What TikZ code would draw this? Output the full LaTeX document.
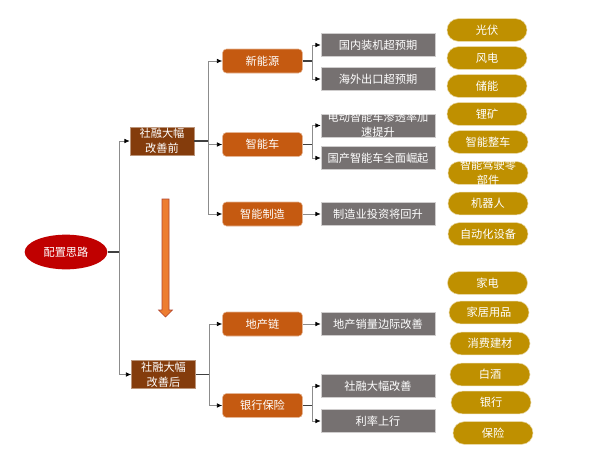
\documentclass[tikz,border=0pt]{standalone}
\usepackage{fontspec}
\newfontfamily\cjk{Noto Sans CJK SC}
\usepackage{xcolor}
\usetikzlibrary{arrows.meta,positioning,shapes.geometric}
\definecolor{rootred}{HTML}{C00000}
\definecolor{phasebrown}{HTML}{843C0C}
\definecolor{sectororange}{HTML}{C55A11}
\definecolor{reasongray}{HTML}{767171}
\definecolor{pickgold}{HTML}{BF9000}
\definecolor{flowfill}{HTML}{ED7D31}
\definecolor{flowedge}{HTML}{B0452F}

\begin{document}
\begin{tikzpicture}[x=0.75pt, y=-0.75pt,
  font=\cjk\fontsize{8.4}{11.2}\selectfont,
  base/.style={align=center, inner sep=0pt, text=white},
  rootnode/.style={base, ellipse, fill=rootred, minimum width=62pt, minimum height=26pt},
  phase/.style={base, fill=phasebrown, draw=phasebrown!55!white, minimum width=48pt, minimum height=21pt},
  sector/.style={base, rounded corners=3pt, fill=sectororange, draw=sectororange!45!white, minimum width=60pt, minimum height=18pt},
  reason/.style={base, fill=reasongray, draw=reasongray!35!white, minimum width=85.5pt, minimum height=17pt},
  pick/.style={base, rounded corners=8.5pt, fill=pickgold, draw=pickgold!35!white, minimum width=60pt, minimum height=17pt},
  spill/.style={text height=17.1pt, text depth=0.1pt},
  stub/.style={draw=black!75, line width=0.8pt},
  arr/.style={draw=black!45, line width=0.6pt, -{Latex[length=4pt, width=3.5pt, color=black]}}]
\useasboundingbox (0,0) rectangle (590,464);
% ---------------- root and phases ----------------
\node[rootnode] (root) at (66,252) {配置思路};
\node[phase] (pre)  at (162,141) {社融大幅\\改善前};
\node[phase] (post) at (163.5,374.5) {社融大幅\\改善后};
\draw[draw=flowedge, fill=flowfill] (162,199) -- (169,199) -- (169,310) -- (172.5,310) -- (165.5,317) -- (158.5,310) -- (162,310) -- cycle;
% ---------------- sectors ----------------
\node[sector] (xny)  at (262.5,61)    {新能源};
\node[sector] (znc)  at (262.5,144.5) {智能车};
\node[sector] (zzz)  at (262.5,214)   {智能制造};
\node[sector] (dcl)  at (262.5,324)   {地产链};
\node[sector] (yhbx) at (262.5,405.5) {银行保险};
% ---------------- reasons ----------------
\node[reason] (r1) at (378,45)    {国内装机超预期};
\node[reason] (r2) at (378,79)    {海外出口超预期};
\node[reason, spill] (r3) at (378,125.5) {电动智能车渗透率加\\速提升};
\node[reason] (r4) at (378,158)   {国产智能车全面崛起};
\node[reason] (r5) at (378,214)   {制造业投资将回升};
\node[reason] (r6) at (378,324)   {地产销量边际改善};
\node[reason] (r7) at (378,386)   {社融大幅改善};
\node[reason] (r8) at (378,421)   {利率上行};
% ---------------- picks ----------------
\node[pick] (p1)  at (487,30)    {光伏};
\node[pick] (p2)  at (487,58)    {风电};
\node[pick] (p3)  at (487,86)    {储能};
\node[pick] (p4)  at (487,114)   {锂矿};
\node[pick] (p5)  at (488,142)   {智能整车};
\node[pick, spill] (p6)  at (488,173) {智能驾驶零\\部件};
\node[pick] (p7)  at (488,203.5) {机器人};
\node[pick] (p8)  at (488,234)   {自动化设备};
\node[pick] (p9)  at (487.5,283) {家电};
\node[pick] (p10) at (489,312.5) {家居用品};
\node[pick] (p11) at (490,343.5) {消费建材};
\node[pick] (p12) at (490,374.5) {白酒};
\node[pick] (p13) at (491,402.5) {银行};
\node[pick] (p14) at (493,433)   {保险};
% ---------------- connections ----------------
\coordinate (rb) at (119,252);
\draw[stub] (root.east) -- (rb);
\draw[arr] (rb) |- (pre.west);
\draw[arr] (rb) |- (post.west);
\coordinate (preb) at (208,141);
\draw[stub] (pre.east) -- (preb);
\draw[arr] (preb) |- (xny.west);
\draw[arr] (preb) |- (znc.west);
\draw[arr] (preb) |- (zzz.west);
\coordinate (postb) at (209,374.5);
\draw[stub] (post.east) -- (postb);
\draw[arr] (postb) |- (dcl.west);
\draw[arr] (postb) |- (yhbx.west);
\coordinate (xnyb) at (312,61);
\draw[stub] (xny.east) -- (xnyb);
\draw[arr] (xnyb) |- (r1.west);
\draw[arr] (xnyb) |- (r2.west);
\coordinate (zncb) at (312,144.5);
\draw[stub] (znc.east) -- (zncb);
\draw[arr] (zncb) |- (r3.west);
\draw[arr] (zncb) |- (r4.west);
\draw[arr] (zzz) -- (r5);
\draw[arr] (dcl) -- (r6);
\coordinate (yhbxb) at (312,405.5);
\draw[stub] (yhbx.east) -- (yhbxb);
\draw[arr] (yhbxb) |- (r7.west);
\draw[arr] (yhbxb) |- (r8.west);
\end{tikzpicture}
\end{document}
